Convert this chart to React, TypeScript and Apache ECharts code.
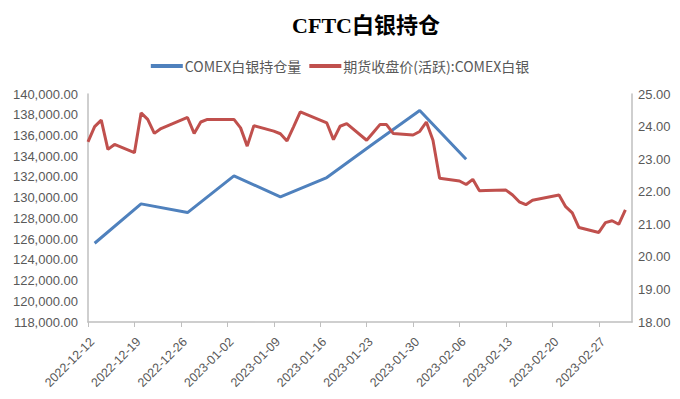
import React, { useEffect, useRef } from "react";
import * as echarts from "echarts";

const TITLE = "CFTC白银持仓";
const SERIES_NAMES = ["COMEX白银持仓量", "期货收盘价(活跃):COMEX白银"];

// CFTC weekly positions (Tuesdays)
const holdDates = [
  "2022-12-13", "2022-12-20", "2022-12-27", "2023-01-03", "2023-01-10",
  "2023-01-17", "2023-01-24", "2023-01-31", "2023-02-07",
];
const holdValues = [125600, 129400, 128560, 132100, 130080, 131940, 135200, 138400, 133700];

// COMEX silver daily close
const priceDates = [
  "2022-12-12", "2022-12-13", "2022-12-14", "2022-12-15", "2022-12-16",
  "2022-12-19", "2022-12-20", "2022-12-21", "2022-12-22", "2022-12-23",
  "2022-12-27", "2022-12-28", "2022-12-29", "2022-12-30",
  "2023-01-03", "2023-01-04", "2023-01-05", "2023-01-06",
  "2023-01-09", "2023-01-10", "2023-01-11", "2023-01-12", "2023-01-13",
  "2023-01-17", "2023-01-18", "2023-01-19", "2023-01-20",
  "2023-01-23", "2023-01-24", "2023-01-25", "2023-01-26", "2023-01-27",
  "2023-01-30", "2023-01-31", "2023-02-01", "2023-02-02", "2023-02-03",
  "2023-02-06", "2023-02-07", "2023-02-08", "2023-02-09", "2023-02-10",
  "2023-02-13", "2023-02-14", "2023-02-15", "2023-02-16", "2023-02-17",
  "2023-02-21", "2023-02-22", "2023-02-23", "2023-02-24",
  "2023-02-27", "2023-02-28", "2023-03-01", "2023-03-02", "2023-03-03",
];
const priceValues = [
  23.53, 24.0, 24.2, 23.3, 23.45,
  23.2, 24.42, 24.22, 23.79, 23.94,
  24.28, 23.79, 24.14, 24.22,
  24.22, 23.96, 23.4, 24.03,
  23.86, 23.78, 23.56, 24.0, 24.45,
  24.11, 23.6, 24.01, 24.09,
  23.58, 23.82, 24.06, 24.06, 23.79,
  23.74, 23.85, 24.14, 23.58, 22.41,
  22.33, 22.22, 22.38, 22.03, 22.04,
  22.05, 21.9, 21.69, 21.6, 21.74,
  21.9, 21.54, 21.35, 20.9,
  20.75, 21.05, 21.11, 21.0, 21.44,
];

const AXIS_START = "2022-12-12";
const AXIS_END_DAY = 82;
const TICK_DAYS = 7;

const DAY_MS = 86400000;
const baseMs = Date.parse(AXIS_START + "T00:00:00Z");
const toDay = (s: string) => Math.round((Date.parse(s + "T00:00:00Z") - baseMs) / DAY_MS);
const fmtDay = (d: number) => new Date(baseMs + d * DAY_MS).toISOString().slice(0, 10);

export default function App() {
  const ref = useRef<HTMLDivElement>(null);
  useEffect(() => {
    if (!ref.current) return;
    const chart = echarts.init(ref.current, null, { renderer: "svg" });
    const labelFont = "'Liberation Sans', 'Noto Sans CJK SC', sans-serif";
    const axisLineColor = "#BFBFBF";
    chart.setOption({
      animation: false,
      backgroundColor: "#ffffff",
      title: {
        text: TITLE,
        left: 361,
        top: 9,
        textAlign: "center",
        textStyle: {
          fontFamily: "'Liberation Serif', 'Noto Sans CJK SC', serif",
          fontWeight: "bold",
          fontSize: 22,
          color: "#000000",
        },
      },
      legend: {
        top: 54,
        left: "center",
        icon: "rect",
        itemWidth: 32,
        itemHeight: 4,
        itemGap: 8,
        textStyle: {
          fontFamily: "'Noto Sans CJK SC', sans-serif",
          fontSize: 14,
          color: "#595959",
          padding: [0, 0, 0, -3],
        },
        data: SERIES_NAMES,
      },
      grid: { left: 88, right: 48, top: 94, bottom: 77, containLabel: false },
      xAxis: {
        type: "value",
        min: 0,
        max: AXIS_END_DAY,
        interval: TICK_DAYS,
        splitLine: { show: false },
        axisLine: { show: true, lineStyle: { color: axisLineColor, width: 1.5 } },
        axisTick: { show: true, length: 5, lineStyle: { color: axisLineColor } },
        axisLabel: {
          rotate: 45,
          showMaxLabel: false,
          margin: 22,
          padding: [0, -6, 0, 0],
          fontFamily: labelFont,
          fontSize: 12.5,
          color: "#595959",
          formatter: (v: number) => (v % TICK_DAYS === 0 ? fmtDay(v) : ""),
        },
      },
      yAxis: [
        {
          type: "value",
          min: 118000,
          max: 140000,
          interval: 2000,
          splitLine: { show: false },
          axisLine: { show: true, lineStyle: { color: axisLineColor, width: 1.5 } },
          axisTick: { show: false },
          axisLabel: {
            margin: 10,
            fontFamily: labelFont,
            fontSize: 13,
            color: "#595959",
            formatter: (v: number) =>
              v.toLocaleString("en-US", { minimumFractionDigits: 2, maximumFractionDigits: 2 }),
          },
        },
        {
          type: "value",
          min: 18,
          max: 25,
          interval: 1,
          position: "right",
          splitLine: { show: false },
          axisLine: { show: true, lineStyle: { color: axisLineColor, width: 1.5 } },
          axisTick: { show: false },
          axisLabel: {
            margin: 6,
            fontFamily: labelFont,
            fontSize: 13,
            color: "#595959",
            formatter: (v: number) => v.toFixed(2),
          },
        },
      ],
      series: [
        {
          name: SERIES_NAMES[0],
          type: "line",
          yAxisIndex: 0,
          showSymbol: false,
          symbol: "none",
          z: 2,
          lineStyle: { color: "#4F81BD", width: 3 },
          itemStyle: { color: "#4F81BD" },
          data: holdDates.map((d, i) => [toDay(d), holdValues[i]]),
        },
        {
          name: SERIES_NAMES[1],
          type: "line",
          yAxisIndex: 1,
          showSymbol: false,
          symbol: "none",
          z: 3,
          lineStyle: { color: "#C0504D", width: 3 },
          itemStyle: { color: "#C0504D" },
          data: priceDates.map((d, i) => [toDay(d), priceValues[i]]),
        },
      ],
    });
    return () => chart.dispose();
  }, []);
  return (
    <div
      ref={ref}
      style={{ position: "fixed", left: 0, top: 0, width: 680, height: 399, background: "#fff" }}
    />
  );
}
